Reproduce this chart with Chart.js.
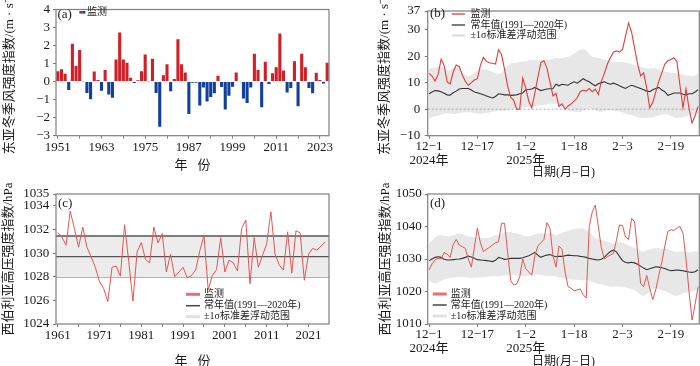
<!DOCTYPE html>
<html>
<head>
<meta charset="utf-8">
<script src="https://cdn.jsdelivr.net/npm/chart.js@4.4.1/dist/chart.umd.min.js"></script>
<style>
  html, body { margin: 0; padding: 0; background: #fff; }
  body { width: 700px; height: 366px; position: relative; overflow: hidden; }
  canvas { position: absolute; }
</style>
</head>
<body>
<canvas id="chartA" width="350" height="183" style="left:0;top:0"></canvas>
<canvas id="chartB" width="350" height="183" style="left:350px;top:0"></canvas>
<canvas id="chartC" width="350" height="190" style="left:0;top:183px"></canvas>
<canvas id="chartD" width="350" height="190" style="left:350px;top:183px"></canvas>
<script>
const SERIF = "'Liberation Serif', 'Noto Sans CJK SC', serif";
const TXT = '#1a1a1a';
const FRAME = '#7f7f7f';

// ---- (a) East Asian winter monsoon index, winters 1951-2025
const yearsA = Array.from({length: 75}, (_, i) => String(1951 + i));
const eawmA = [
  0.58, 0.69, 0.44, -0.47, 2.1, 0.87, 1.76, 0.02, -0.63, -0.98,
  0.56, 0.09, -0.5, 0.65, -0.72, -0.9, 1.23, 2.72, 1.22, 1.05,
  0.22, -0.07, 0.07, 0.58, 1.5, 0.02, 1.27, -0.63, -2.5, 0.35,
  0.96, -0.53, 0.15, 2.35, 0.96, 0.5, -1.8, -0.06, -0.06, -1.33,
  -0.33, -1.1, -0.85, -0.64, 0.33, -0.3, -1.55, -0.78, -0.29, 0.51,
  0.03, -0.93, -1.18, -0.33, 1.55, 0.65, -1.42, 1.1, -0.13, 0.47,
  0.8, 2.67, 0.62, -0.6, -0.36, 1.13, -1.36, 1.55, 0.8, -0.36,
  -0.64, 0.49, 0.09, -0.11, 1.04
];

// ---- (b) daily EAWM index, 2024-12-01 .. 2025-02-28
const dayTicks = [0, 16, 32, 48, 64, 80];
const dayTickLabels = [['12−1', '2024年'], '12−17', ['1−2', '2025年'], '1−18', '2−3', '2−19'];
const yTicksB = [-10, 0, 10, 20, 30, 37];
const eawmObsB = [
  13.5, 12.5, 10.6, 13, 18.8, 16.5, 10.3, 9.5, 14, 16.6,
  16, 13, 10.5, 9, 10, 11, 11.5, 16.5, 19.5, 18,
  17.5, 17.3, 17, 22.4, 20.5, 15, 8.8, 4.5, 3.3, 0,
  0, 11.7, 8, 3, 0.5, 6, 12, 17.5, 18.3, 15.5,
  10.3, 5, 6, 1, 2, 0, 1.2, 2, 3, 4.2,
  6.6, 7.2, 6.8, 7.8, 6.6, 7.6, 5.5, 10.5, 13.5, 17,
  19.5, 21.5, 22, 21.5, 22.5, 27.5, 32.5, 29, 23, 17,
  12.5, 13.7, 8, 0.5, 2.5, 6.5, 10.5, 13.7, 17, 18.3,
  18.7, 19.4, 18, 9, 0.5, 7.6, 0.3, -5.2, -2.5, 1
];
const eawmClimB = [
  5.8, 6.5, 7, 6.9, 6.6, 6, 5.4, 5.3, 6.2, 6.8,
  7.6, 7.8, 7.8, 7.8, 7.2, 6.5, 6.2, 5.8, 5.4, 5,
  4.6, 4.2, 4.8, 5.8, 5.6, 5.4, 5.4, 5.2, 5.3, 5.4,
  5.8, 6.1, 7.3, 7.4, 7.6, 8.2, 7.6, 7, 7.3, 7.6,
  7.7, 7.8, 9.4, 8.8, 9.4, 9.2, 9, 9.8, 10.3, 9.8,
  10.6, 11.5, 10.8, 10.3, 9.5, 8.8, 9.6, 10, 10.3, 9.8,
  9.4, 9.8, 9.4, 8.8, 8.3, 7.8, 8.5, 9, 8.6, 8.2,
  7.8, 7.3, 6.8, 6.6, 7.3, 7.8, 8.2, 7.2, 6.6, 5.2,
  5.6, 6.1, 6.1, 6.1, 5.6, 5.4, 5.8, 5.8, 6.5, 7.3
];
const eawmHiB = [
  15, 15.5, 15.8, 16, 16, 15.5, 14.8, 14.8, 15.5, 16,
  15.2, 13.8, 12.8, 12.6, 12.8, 13.5, 14.5, 15, 15, 15,
  14.5, 14, 13.5, 13.2, 13.5, 15, 16.5, 17.3, 17.5, 17.5,
  17.8, 18, 18, 18.3, 18.5, 18.5, 18.5, 18.6, 18.5, 18.6,
  18.8, 19, 19.3, 19.3, 19.2, 19.5, 19.8, 20.2, 21, 21.8,
  22.4, 22.6, 22.2, 20.8, 19.7, 19.5, 19.3, 19, 18.6, 18.3,
  18, 18, 17.8, 17.8, 17.8, 17.5, 17.3, 17, 16.6, 16.2,
  15.9, 15.6, 15.4, 15.3, 15.5, 15.6, 15, 14.5, 14.2, 14,
  13.8, 13.6, 13.4, 13.2, 13, 12.8, 12.6, 12.5, 12.8, 13.4
];
const eawmLoB = [
  -3.5, -3, -2.7, -2.5, -2, -1.7, -1.5, -1.6, -1.8, -1.8,
  -1.5, -1.3, -1.2, -1.2, -1.3, -1.5, -1.6, -1.7, -1.6, -1.4,
  -1.2, -1, -0.8, -0.7, -0.7, -0.6, -0.3, 0, 0.1, 0.3,
  0.5, 0.6, 0.8, 1, 1, 1.2, 1.4, 1.5, 1.6, 1.8,
  2, 2.1, 2, 1.6, 1, 0.3, -0.4, -0.8, -1, -1.1,
  -1.1, -0.6, 0, 0.3, 0, -0.5, -1, -1.1, -0.8, -0.5,
  -0.3, -0.5, -0.8, -0.9, -1.2, -1.6, -2, -2.2, -2.6, -3,
  -3.2, -3.3, -3.3, -3.2, -3, -2.7, -2.4, -2.1, -1.9, -2,
  -2.5, -3, -3.3, -3.2, -3, -2.7, -2.3, -2, -1.7, -1.5
];

// ---- (c) Siberian High index, winters 1961-2025
const yearsC = Array.from({length: 65}, (_, i) => 1961 + i);
const xTicksC = [1961, 1966, 1971, 1976, 1981, 1986, 1991, 1996, 2001, 2006, 2011, 2016, 2021];
const shObsC = [
  1031.74, 1031.37, 1030.67, 1033.56, 1032.07, 1030.5, 1032.2, 1030.5, 1029.7, 1028.8,
  1027.6, 1027.0, 1025.9, 1028.8, 1028.9, 1028.05, 1032.4, 1029.3, 1025.94, 1030.1,
  1030.9, 1029.46, 1029.17, 1032.2, 1030.86, 1031.65, 1028.4, 1029.9, 1028.0, 1028.4,
  1028.8, 1027.9, 1028.1, 1028.56, 1030.2, 1031.5, 1026.9, 1028.1, 1028.6, 1031.3,
  1028.4, 1029.4, 1029.17, 1028.5, 1032.07, 1032.8, 1027.4, 1031.3, 1028.8, 1029.8,
  1030.8, 1033.5, 1029.9, 1029.0, 1028.56, 1031.8, 1028.3, 1031.9, 1031.7, 1027.7,
  1029.9, 1030.4, 1030.25, 1030.6, 1030.95
];
const shClimC = 1029.7;
const shSigmaC = 1.75;
const xRangeC = [1960.6, 2025.9];
const yTicksC = [1024, 1026, 1028, 1030, 1032, 1034, 1035];

// ---- (d) daily Siberian High index
const shObsD = [
  1026.6, 1028.5, 1029.8, 1030.2, 1030, 1032, 1031.5, 1030.5, 1034.5, 1036,
  1034.3, 1033.8, 1033.3, 1030, 1027.5, 1033.5, 1039.5, 1035, 1032.3, 1033,
  1033.6, 1034.3, 1035, 1035.3, 1041, 1041, 1032, 1023.5, 1022, 1022.3,
  1024.5, 1030, 1027, 1026, 1025, 1031, 1034, 1035, 1036, 1041.2,
  1039.5, 1031, 1027.5, 1034, 1033, 1026, 1021.5, 1021, 1020.2, 1020.5,
  1020.8, 1019, 1018, 1040, 1044.5, 1046.6, 1040, 1033.5, 1030, 1030.7,
  1031.2, 1031.7, 1035.8, 1040.5, 1040.3, 1036.8, 1036, 1042.5, 1041.5, 1032,
  1022.5, 1021.5, 1025, 1021, 1017.5, 1020.5, 1025, 1029, 1034, 1038.5,
  1039, 1038.8, 1039.5, 1040, 1038, 1030, 1020, 1011.2, 1016, 1021.5
];
const shClimD = [
  1029.5, 1030, 1030.5, 1030.7, 1030.5, 1029.9, 1029.7, 1029.7, 1029.8, 1029.9,
  1030, 1030.2, 1030.5, 1030.9, 1030.6, 1030.2, 1029.8, 1029.7, 1029.6, 1029.5,
  1029.4, 1029.2, 1029.6, 1030.5, 1030.2, 1029.9, 1030, 1030.2, 1030.2, 1030.2,
  1030.2, 1030.4, 1030.7, 1031, 1031.5, 1032, 1031.2, 1030.5, 1030.9, 1031.2,
  1031.4, 1031, 1030.7, 1030.8, 1030.8, 1031, 1031.2, 1031.1, 1031, 1031,
  1030.8, 1030.7, 1030.5, 1030.2, 1030, 1029.8, 1029.7, 1029.9, 1030.5, 1031.5,
  1032.3, 1032.7, 1032.2, 1030.8, 1029.5, 1028.9, 1028.8, 1029, 1028.8, 1028.4,
  1027.8, 1027.2, 1026.7, 1027, 1027.3, 1027.6, 1027.5, 1027.3, 1027.1, 1026.7,
  1026.4, 1026.5, 1026.6, 1026.5, 1026.4, 1026.2, 1026, 1025.9, 1026.1, 1026.7
];
const shHiD = [
  1034.8, 1035.8, 1036.6, 1037.2, 1037.4, 1037.2, 1037, 1037, 1037.3, 1037.6,
  1037.9, 1037.6, 1037.2, 1036.9, 1036.8, 1036.8, 1036.6, 1036.5, 1036.4, 1036.4,
  1036.5, 1036.9, 1037.3, 1037.5, 1037.8, 1038.2, 1038.4, 1038.3, 1038, 1037.9,
  1037.6, 1037.3, 1037, 1036.9, 1037.2, 1037.6, 1037.9, 1037.9, 1037.8, 1037.9,
  1037.9, 1037.6, 1037.4, 1037.6, 1038, 1038.4, 1038.6, 1038.9, 1039.2, 1039.4,
  1039.4, 1039.3, 1039.1, 1038.3, 1037.3, 1036.5, 1036.2, 1035.8, 1035.6, 1035.4,
  1035, 1034.8, 1035, 1035.3, 1035, 1034.6, 1034.2, 1033.8, 1033.4, 1033,
  1032.5, 1032.3, 1032.6, 1033, 1033.2, 1033.4, 1033.3, 1033.2, 1033.1, 1033,
  1032.7, 1032.3, 1032.2, 1032.3, 1032.3, 1032.2, 1032.1, 1032.2, 1032.3, 1032.3
];
const shLoD = [
  1023.3, 1022.8, 1022.5, 1022.8, 1023.3, 1023.8, 1024, 1024.1, 1024.3, 1024.4,
  1024.5, 1024.4, 1024.5, 1024.3, 1024.1, 1024.2, 1024.3, 1024.4, 1024.4, 1024.5,
  1024.6, 1024.6, 1024.7, 1024.6, 1024.8, 1024.9, 1025, 1025.1, 1025.1, 1025,
  1024.9, 1024.8, 1024.8, 1024.9, 1025.1, 1025.3, 1025.3, 1025.1, 1024.9, 1024.8,
  1024.8, 1024.7, 1024.6, 1024.4, 1024.2, 1024, 1023.8, 1023.7, 1023.7, 1023.6,
  1023.5, 1023.5, 1023.6, 1023.4, 1023, 1022.6, 1022.3, 1022.2, 1022, 1021.7,
  1021.5, 1021.5, 1021.6, 1021.5, 1021.3, 1021.2, 1021, 1020.7, 1020.4, 1019.8,
  1019, 1018.6, 1019.2, 1020, 1020.8, 1021, 1020.7, 1020.4, 1020.1, 1019.7,
  1019.2, 1018.8, 1018.7, 1019, 1019.5, 1019.7, 1019.8, 1020, 1020.3, 1020.6
];
const xRangeDays = [-0.43, 89.4];

// ---- helpers
const days = eawmObsB.map((_, i) => i);
const pts = (xs, ys) => ys.map((y, i) => ({x: xs[i], y: y}));
const flat = (range, y) => range.map(x => ({x: x, y: y}));
const minus = v => String(v).replace('-', '−');

const RED = '#e23b3b';
const RED_SOFT = '#e25555';
const BLACK = '#333333';
const BAND = '#e7e7e7';

Chart.defaults.font.family = SERIF;
Chart.defaults.color = TXT;
Chart.defaults.animation = false;

// frame, panel tag and legend drawn over the plot
const decor = {
  id: 'decor',
  afterDraw(chart, args, o) {
    const {ctx, chartArea: a} = chart;
    ctx.save();
    ctx.strokeStyle = FRAME;
    ctx.lineWidth = 1.2;
    ctx.strokeRect(a.left, a.top, a.right - a.left, a.bottom - a.top);
    ctx.fillStyle = TXT;
    ctx.textBaseline = 'middle';
    ctx.font = '13px ' + SERIF;
    ctx.fillText(o.tag, o.tagX, o.tagY);
    ctx.font = '10px ' + SERIF;
    (o.items || []).forEach(it => {
      if (it.patch) {
        ctx.fillStyle = '#d11f26';
        ctx.fillRect(it.x0, it.y - 1.3, (it.x1 - it.x0) / 2, 2.6);
        ctx.fillStyle = '#123f98';
        ctx.fillRect((it.x0 + it.x1) / 2, it.y - 1.3, (it.x1 - it.x0) / 2, 2.6);
      } else {
        ctx.strokeStyle = it.color;
        ctx.lineWidth = it.width;
        ctx.beginPath();
        ctx.moveTo(it.x0, it.y);
        ctx.lineTo(it.x1, it.y);
        ctx.stroke();
      }
      ctx.fillStyle = TXT;
      ctx.fillText(it.text, it.tx, it.y);
    });
    ctx.restore();
  }
};

function yAxis(title, width, titlePad, tickPad, extra) {
  return Object.assign({
    position: 'left',
    afterFit: s => { s.width = width; },
    grid: {drawOnChartArea: false, tickLength: 3, color: FRAME},
    border: {display: false},
    ticks: {padding: tickPad, font: {size: 13, lineHeight: 1}, callback: minus},
    title: {display: true, text: title, font: {size: 13}, padding: {top: titlePad, bottom: 0}}
  }, extra);
}

function xAxis(title, height, titleSize, titlePad, tickPad, extra) {
  return Object.assign({
    position: 'bottom',
    afterFit: s => { s.height = height; },
    grid: {drawOnChartArea: false, tickLength: 3, color: FRAME, offset: false},
    border: {display: false},
    ticks: {padding: tickPad, autoSkip: false, maxRotation: 0, font: {size: 13, lineHeight: 1.05}},
    title: {display: true, text: title, font: {size: titleSize}, padding: {top: 0, bottom: titlePad}}
  }, extra);
}

const baseOpts = {
  responsive: false,
  plugins: {legend: {display: false}, tooltip: {enabled: false}},
  elements: {point: {radius: 0}, line: {tension: 0}}
};

const yTitleEawm = '东亚冬季风强度指数/(m · s⁻¹)';
const yTitleSh = '西伯利亚高压强度指数/hPa';
const xTitleYear = '年   份';
const xTitleDate = '日期(月−日)';

const dayAxis = (height, titlePad, tickPad) => xAxis(xTitleDate, height, 12, titlePad, tickPad, {
  type: 'linear', min: xRangeDays[0], max: xRangeDays[1],
  afterBuildTicks: s => { s.ticks = dayTicks.map(v => ({value: v})); },
  ticks: {padding: tickPad, autoSkip: false, maxRotation: 0, font: {size: 13, lineHeight: 1.05},
    callback: v => dayTickLabels[dayTicks.indexOf(v)]}
});

// ---- (a)
new Chart(document.getElementById('chartA'), {
  type: 'bar',
  data: {
    labels: yearsA,
    datasets: [{
      data: eawmA,
      backgroundColor: c => c.raw >= 0 ? '#d11f26' : '#123f98',
      categoryPercentage: 1,
      barPercentage: 0.85
    }]
  },
  options: Object.assign({}, baseOpts, {
    layout: {padding: {left: 0, right: 21, top: 6.7, bottom: 0}},
    scales: {
      x: xAxis(xTitleYear, 47.3, 13, 10, 2, {
        afterBuildTicks: s => { s.ticks = s.ticks.filter(t => t.value % 6 === 0); },
        ticks: {padding: 2, autoSkip: false, maxRotation: 0, font: {size: 13, lineHeight: 1.05},
          callback: v => v % 12 === 0 ? yearsA[v] : ''}
      }),
      y: yAxis(yTitleEawm, 56, 2, 3, {min: -3, max: 4, ticks: {padding: 3, stepSize: 1, font: {size: 13, lineHeight: 1}, callback: minus}})
    },
    plugins: Object.assign({}, baseOpts.plugins, {
      decor: {tag: '(a)', tagX: 57.5, tagY: 15, items: [
        {patch: true, x0: 79.3, x1: 85.3, y: 12.3, text: '监测', tx: 87}
      ]}
    })
  }),
  plugins: [decor]
});

// ---- (b)
new Chart(document.getElementById('chartB'), {
  type: 'line',
  data: {
    datasets: [
      {data: pts(days, eawmObsB), borderColor: RED, borderWidth: 1.1},
      {data: pts(days, eawmClimB), borderColor: BLACK, borderWidth: 1.1},
      {data: flat(xRangeDays, 0), borderColor: '#9a9a9a', borderWidth: 0.8, borderDash: [2, 2]},
      {data: pts(days, eawmHiB), borderWidth: 0, backgroundColor: BAND, fill: 4},
      {data: pts(days, eawmLoB), borderWidth: 0}
    ]
  },
  options: Object.assign({}, baseOpts, {
    layout: {padding: {left: 25, right: 0.7, top: 6.7, bottom: 0}},
    scales: {
      x: dayAxis(47.3, 2.8, 1.5),
      y: yAxis(yTitleEawm, 52.7, 2.2, 4.5, {min: -10, max: 37,
        afterBuildTicks: s => { s.ticks = yTicksB.map(v => ({value: v})); }})
    },
    plugins: Object.assign({}, baseOpts.plugins, {
      decor: {tag: '(b)', tagX: 80, tagY: 14, items: [
        {color: RED, width: 1.3, x0: 101.7, x1: 115, y: 14, text: '监测', tx: 120.5},
        {color: BLACK, width: 1.3, x0: 101.7, x1: 115, y: 25, text: '常年值(1991—2020年)', tx: 120.5},
        {color: '#dadada', width: 2, x0: 101.7, x1: 115, y: 35.5, text: '±1σ标准差浮动范围', tx: 120.5}
      ]}
    })
  }),
  plugins: [decor]
});

// ---- (c)
new Chart(document.getElementById('chartC'), {
  type: 'line',
  data: {
    datasets: [
      {data: pts(yearsC, shObsC), borderColor: RED_SOFT, borderWidth: 1},
      {data: flat(xRangeC, shClimC), borderColor: '#555555', borderWidth: 1.4},
      {data: flat(xRangeC, shClimC + shSigmaC), borderColor: '#555555', borderWidth: 1.4, backgroundColor: '#ececec', fill: 3},
      {data: flat(xRangeC, shClimC - shSigmaC), borderColor: '#a0a0a0', borderWidth: 1.2}
    ]
  },
  options: Object.assign({}, baseOpts, {
    layout: {padding: {left: 0, right: 21, top: 11, bottom: 0}},
    scales: {
      x: xAxis(xTitleYear, 49, 13, 3.5, 2, {
        type: 'linear', min: xRangeC[0], max: xRangeC[1],
        afterBuildTicks: s => { s.ticks = xTicksC.map(v => ({value: v})); },
        ticks: {padding: 2, autoSkip: false, maxRotation: 0, font: {size: 13, lineHeight: 1.05},
          callback: v => (v - 1961) % 10 === 0 ? String(v) : ''}
      }),
      y: yAxis(yTitleSh, 56, 1, 3.7, {min: 1024, max: 1035,
        afterBuildTicks: s => { s.ticks = yTicksC.map(v => ({value: v})); }})
    },
    plugins: Object.assign({}, baseOpts.plugins, {
      decor: {tag: '(c)', tagX: 58, tagY: 20.3, items: [
        {color: '#e87070', width: 3, x0: 186, x1: 200, y: 111.3, text: '监测', tx: 204},
        {color: '#444444', width: 1.5, x0: 186, x1: 200, y: 122.7, text: '常年值(1991—2020年)', tx: 204},
        {color: '#e0e0e0', width: 3, x0: 186, x1: 200, y: 133.7, text: '±1σ标准差浮动范围', tx: 204}
      ]}
    })
  }),
  plugins: [decor]
});

// ---- (d)
new Chart(document.getElementById('chartD'), {
  type: 'line',
  data: {
    datasets: [
      {data: pts(days, shObsD), borderColor: RED_SOFT, borderWidth: 1},
      {data: pts(days, shClimD), borderColor: BLACK, borderWidth: 1.1},
      {data: pts(days, shHiD), borderWidth: 0, backgroundColor: BAND, fill: 3},
      {data: pts(days, shLoD), borderWidth: 0}
    ]
  },
  options: Object.assign({}, baseOpts, {
    layout: {padding: {left: 26, right: 0.7, top: 11, bottom: 0}},
    scales: {
      x: dayAxis(49, 4.1, 1),
      y: yAxis(yTitleSh, 51.7, 2.2, 3, {min: 1010, max: 1050, ticks: {padding: 3, stepSize: 10, font: {size: 13, lineHeight: 1}, callback: minus}})
    },
    plugins: Object.assign({}, baseOpts.plugins, {
      decor: {tag: '(d)', tagX: 80, tagY: 20.3, items: [
        {color: '#e87070', width: 3, x0: 82.7, x1: 96.7, y: 111, text: '监测', tx: 100.7},
        {color: '#444444', width: 1.5, x0: 82.7, x1: 96.7, y: 122, text: '常年值(1991—2020年)', tx: 100.7},
        {color: '#e0e0e0', width: 3, x0: 82.7, x1: 96.7, y: 133, text: '±1σ标准差浮动范围', tx: 100.7}
      ]}
    })
  }),
  plugins: [decor]
});
</script>
</body>
</html>
